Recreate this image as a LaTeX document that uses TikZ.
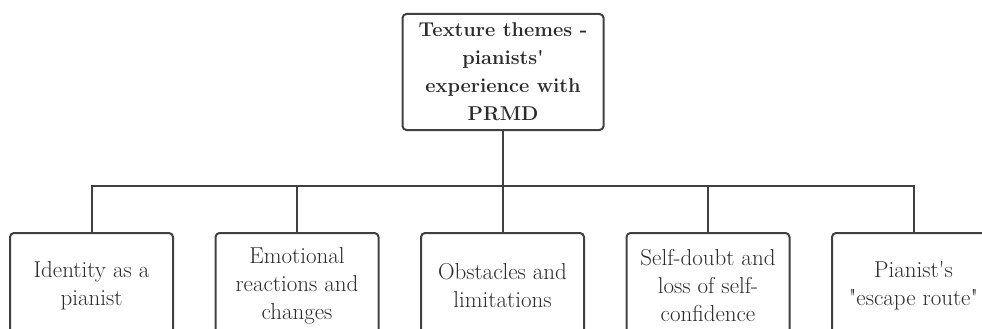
\documentclass[tikz,border=0pt]{standalone}
\usepackage{fontspec}
\usetikzlibrary{positioning}
\definecolor{linegray}{HTML}{404040}
\definecolor{textgray}{HTML}{2B2B2B}

\begin{document}
\begin{tikzpicture}[
    x=1pt, y=-1pt,
    node distance=40.5pt,
    every node/.style={align=center, text=textgray},
    theme/.style={
        draw=linegray,
        rounded corners=4pt,
        line width=2pt,
        minimum width=201pt,
        minimum height=116pt,
        inner sep=0pt,
        font=\fontsize{20}{28}\selectfont\bfseries
    },
    subtheme/.style={
        draw=linegray,
        rounded corners=4pt,
        line width=2pt,
        minimum width=163pt,
        minimum height=106pt,
        inner sep=0pt,
        font=\fontsize{23}{28}\selectfont
    },
    link/.style={
        draw=linegray,
        line width=2pt
    }
]
\useasboundingbox (0,0) rectangle (982,329);
\clip (0,0) rectangle (982,329);

\node[theme] (texture) at (503,72) {Texture themes -\\pianists\textquotesingle\\experience with\\PRMD};

\node[subtheme] (identity) at (91.5,286) {Identity as a\\pianist};
\node[subtheme, right=of identity] (emotion) {Emotional\\reactions and\\changes};
\node[subtheme, right=of emotion] (obstacle) {Obstacles and\\limitations};
\node[subtheme, right=of obstacle] (doubt) {Self-doubt and\\loss of self-\\confidence};
\node[subtheme, right=of doubt] (escape) {Pianist\textquotesingle s\\\textquotedbl escape route\textquotedbl};

\coordinate (bus) at (0,186);
\foreach \sub in {identity, emotion, obstacle, doubt, escape}
    \draw[link] (texture.south) -- (texture.south |- bus) -| (\sub.north);
\end{tikzpicture}
\end{document}
